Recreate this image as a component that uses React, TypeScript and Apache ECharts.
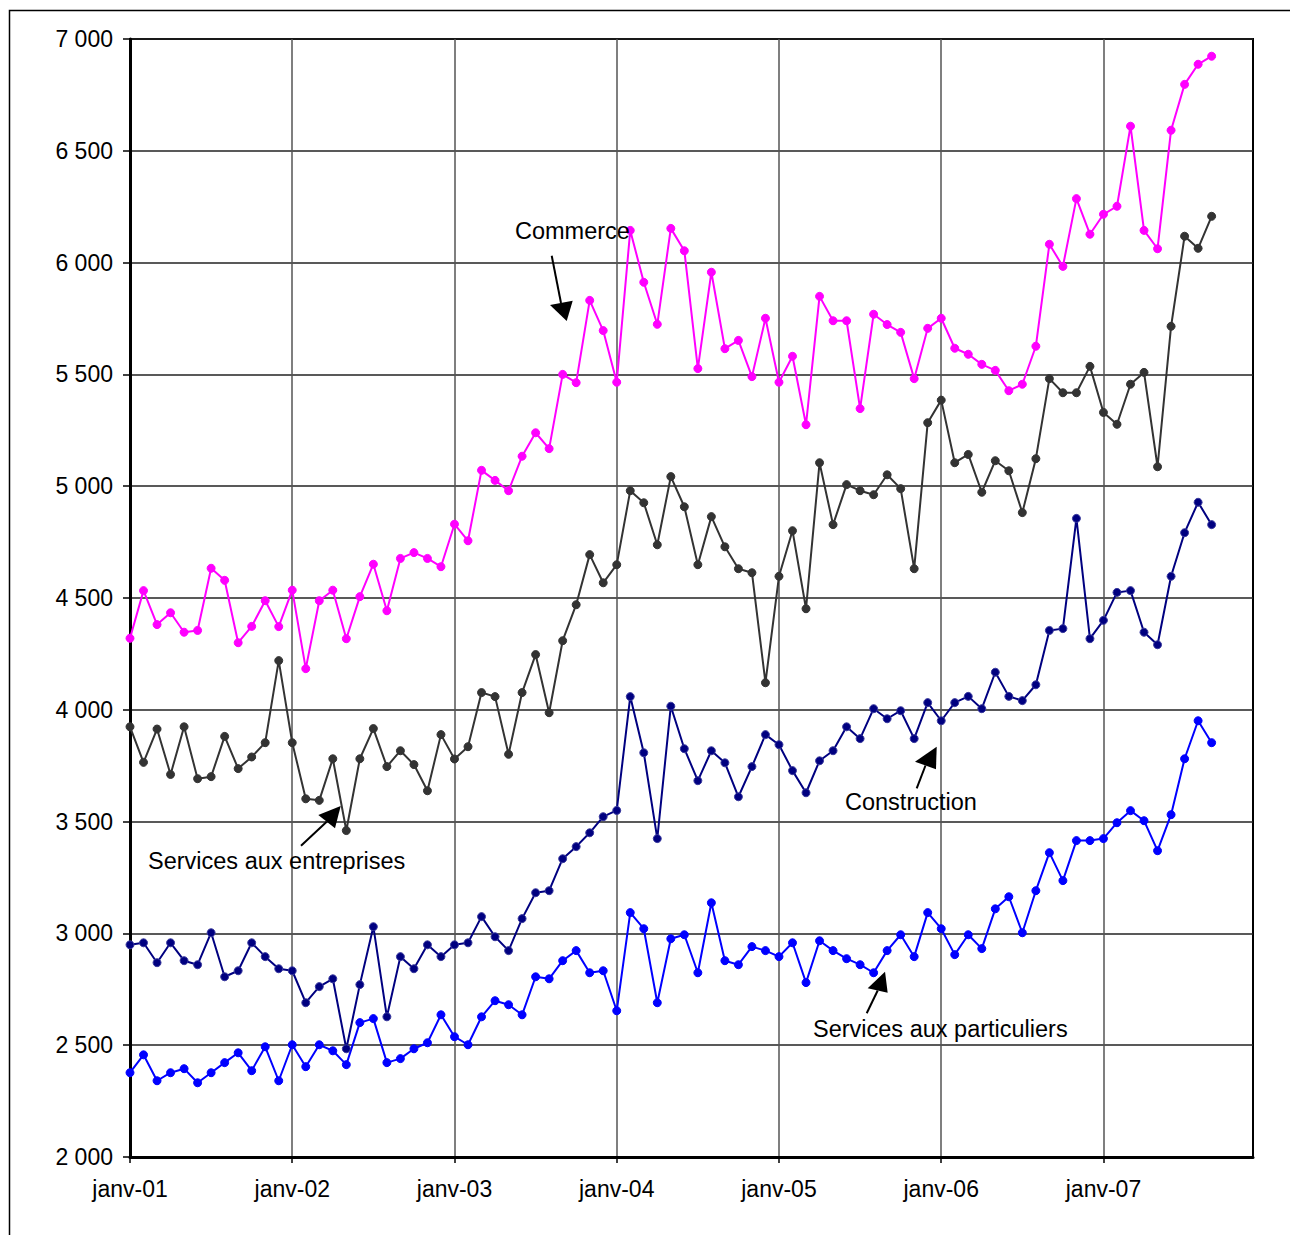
import React, { useEffect, useRef } from 'react';
import * as echarts from 'echarts';

// Monthly series, janv-01 .. sept-07
const commerce = [
  4320, 4533, 4381, 4434, 4347, 4355, 4633, 4579, 4300, 4373, 4488, 4372,
  4535, 4184, 4488, 4535, 4318, 4506, 4651, 4443, 4677, 4703, 4677, 4640,
  4830, 4756, 5071, 5026, 4980, 5134, 5239, 5168, 5500, 5463, 5831, 5696,
  5465, 6144, 5912, 5724, 6153, 6053, 5526, 5957, 5615, 5652, 5490, 5751,
  5465, 5581, 5275, 5849, 5740, 5740, 5347, 5769, 5723, 5688, 5481, 5706,
  5751, 5617, 5590, 5545, 5518, 5427, 5456, 5626, 6082, 5983, 6286, 6127,
  6216, 6252, 6610, 6144, 6062, 6592, 6797, 6887, 6923,
];
const servicesEntreprises = [
  3924, 3765, 3914, 3711, 3924, 3692, 3701, 3881, 3737, 3789, 3853, 4220,
  3853, 3602, 3595, 3781, 3460, 3781, 3916, 3746, 3817, 3755, 3638, 3889,
  3780, 3835, 4077, 4059, 3801, 4077, 4247, 3987, 4309, 4470, 4694, 4568,
  4649, 4980, 4926, 4738, 5043, 4908, 4649, 4864, 4729, 4631, 4613, 4121,
  4597, 4801, 4452, 5105, 4828, 5007, 4980, 4962, 5051, 4989, 4631, 5284,
  5385, 5105, 5142, 4973, 5114, 5069, 4882, 5123, 5481, 5418, 5418, 5536,
  5330, 5277, 5456, 5509, 5087, 5715, 6118, 6064, 6207,
];
const construction = [
  2949, 2958, 2869, 2958, 2878, 2860, 3003, 2806, 2833, 2958, 2896, 2842,
  2833, 2690, 2762, 2797, 2484, 2771, 3030, 2627, 2896, 2842, 2949, 2896,
  2949, 2958, 3075, 2985, 2923, 3066, 3182, 3191, 3334, 3388, 3450, 3522,
  3550, 4059, 3808, 3424, 4016, 3826, 3683, 3817, 3763, 3611, 3746, 3889,
  3844, 3728, 3629, 3772, 3817, 3924, 3871, 4005, 3960, 3996, 3871, 4032,
  3951, 4032, 4060, 4005, 4168, 4060, 4041, 4112, 4355, 4363, 4856, 4318,
  4400, 4525, 4533, 4347, 4291, 4597, 4792, 4928, 4828,
];
const servicesParticuliers = [
  2377, 2457, 2341, 2377, 2395, 2332, 2377, 2422, 2466, 2386, 2493, 2341,
  2502, 2404, 2502, 2475, 2413, 2601, 2619, 2422, 2440, 2484, 2511, 2636,
  2538, 2502, 2627, 2699, 2681, 2636, 2806, 2797, 2878, 2923, 2824, 2833,
  2654, 3093, 3021, 2690, 2976, 2994, 2824, 3137, 2878, 2860, 2941, 2923,
  2896, 2958, 2780, 2967, 2923, 2887, 2860, 2824, 2923, 2994, 2896, 3093,
  3021, 2905, 2994, 2932, 3110, 3164, 3003, 3191, 3361, 3236, 3415, 3415,
  3424, 3495, 3549, 3504, 3370, 3531, 3781, 3951, 3853,
];

const xTickLabels = ['janv-01', 'janv-02', 'janv-03', 'janv-04', 'janv-05', 'janv-06', 'janv-07'];
const xTickMonths = [0, 12, 24, 36, 48, 60, 72];
const yMin = 2000;
const yMax = 7000;
const yStep = 500;
const xAxisEndMonth = 83.06;

const FONT = '"Liberation Sans", Arial, sans-serif';

const toPoints = (vals: number[]) => vals.map((v, i) => [i, v]);
const fmtThousands = (v: number) => String(v).replace(/\B(?=(\d{3})+(?!\d))/g, ' ');

function arrow(x1: number, y1: number, x2: number, y2: number, head: number[][]) {
  return [
    { type: 'line', shape: { x1, y1, x2, y2 }, style: { stroke: '#000', lineWidth: 2 }, z: 100 },
    { type: 'polygon', shape: { points: head }, style: { fill: '#000' }, z: 100 },
  ];
}

function label(text: string, x: number, y: number) {
  return {
    type: 'text',
    x,
    y,
    z: 100,
    style: {
      text,
      fill: '#000',
      font: `23.5px ${FONT}`,
      align: 'left',
      verticalAlign: 'middle',
    },
  };
}

export default function App() {
  const ref = useRef<HTMLDivElement>(null);
  useEffect(() => {
    if (!ref.current) return;
    const chart = echarts.init(ref.current, null, { renderer: 'svg' });
    const series = [
      { name: 'Commerce', data: commerce, color: '#FF00FF', border: '#FF00FF' },
      { name: 'Services aux entreprises', data: servicesEntreprises, color: '#333333', border: '#333333' },
      { name: 'Construction', data: construction, color: '#000080', border: '#3a3a9e' },
      { name: 'Services aux particuliers', data: servicesParticuliers, color: '#0000FF', border: '#0000FF' },
    ].map((s) => ({
      type: 'line',
      name: s.name,
      data: toPoints(s.data),
      symbol: 'circle',
      symbolSize: 8,
      clip: false,
      lineStyle: { color: s.color, width: 2 },
      itemStyle: { color: s.color, borderColor: s.border, borderWidth: 1 },
      emphasis: { disabled: true },
    }));

    chart.setOption({
      animation: false,
      backgroundColor: '#fff',
      grid: {
        left: 130,
        top: 39,
        width: 1123,
        height: 1118,
        show: true,
        borderColor: '#000',
        borderWidth: 2,
        containLabel: false,
      },
      xAxis: {
        type: 'value',
        min: 0,
        max: xAxisEndMonth,
        interval: 12,
        axisLine: { show: true, onZero: false, lineStyle: { color: '#000', width: 3 } },
        axisTick: { show: true, length: 6, customValues: xTickMonths, lineStyle: { color: '#000', width: 1.5 } },
        axisLabel: {
          customValues: xTickMonths,
          formatter: (v: number) => {
            const idx = xTickMonths.indexOf(Math.round(v));
            return idx >= 0 && Math.abs(v - Math.round(v)) < 1e-6 ? xTickLabels[idx] : '';
          },
          fontSize: 23,
          fontFamily: FONT,
          color: '#000',
          margin: 20,
        },
        splitLine: { show: true, lineStyle: { color: '#555', width: 1.5 } },
      },
      yAxis: {
        type: 'value',
        min: yMin,
        max: yMax,
        interval: yStep,
        axisLine: { show: true, lineStyle: { color: '#000', width: 3 } },
        axisTick: { show: true, length: 7, lineStyle: { color: '#000', width: 1.5 } },
        axisLabel: {
          formatter: (v: number) => fmtThousands(v),
          fontSize: 23,
          fontFamily: FONT,
          color: '#000',
          margin: 17,
        },
        splitLine: { show: true, lineStyle: { color: '#222', width: 1.5 } },
      },
      series,
      graphic: [
        {
          type: 'rect',
          shape: { x: 9.5, y: 10.5, width: 1400, height: 1400 },
          style: { fill: 'none', stroke: '#000', lineWidth: 1.5 },
          z: 100,
        },
        label('Commerce', 515, 231),
        ...arrow(551.7, 255.7, 561, 303, [[550, 305], [572.7, 300.7], [566.7, 321]]),
        label('Services aux entreprises', 148, 861),
        ...arrow(301, 845.7, 326.7, 821.7, [[318.3, 815], [335, 828.3], [340.7, 806]]),
        label('Construction', 845, 802),
        ...arrow(916.7, 788.3, 925.5, 765.5, [[915, 761.7], [936.7, 746.7], [936, 769.3]]),
        label('Services aux particuliers', 813, 1029),
        ...arrow(866.7, 1013.3, 877.7, 990.5, [[867.7, 988.3], [885, 971.7], [887.7, 992.7]]),
      ],
    });
    return () => chart.dispose();
  }, []);
  return (
    <div
      ref={ref}
      style={{ position: 'fixed', left: 0, top: 0, width: 1290, height: 1235, background: '#fff' }}
    />
  );
}
